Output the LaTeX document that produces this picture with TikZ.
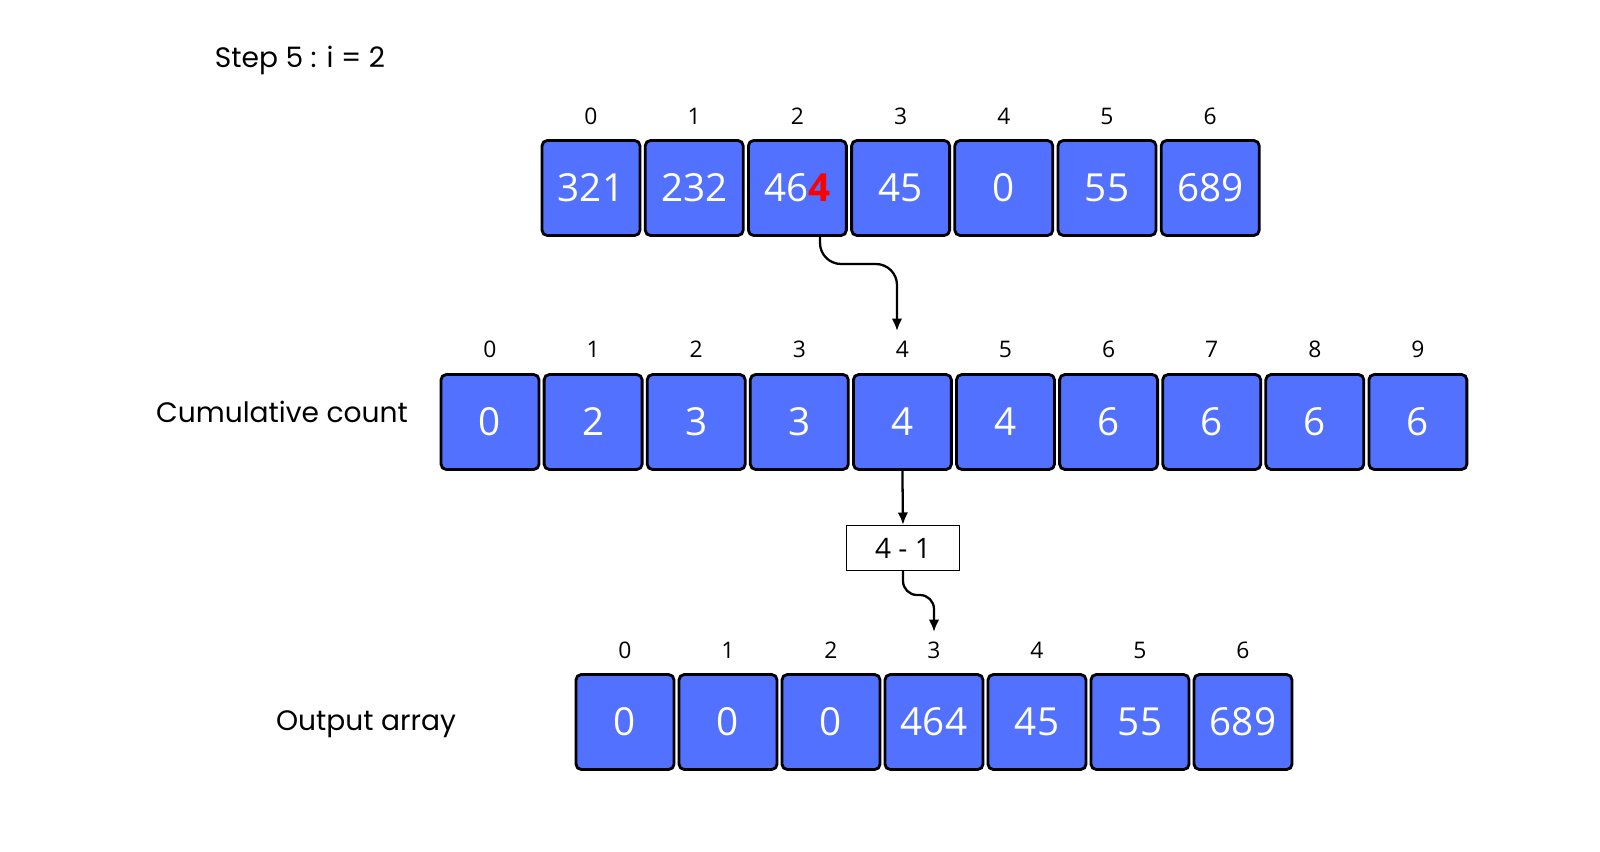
\documentclass[tikz,border=0pt]{standalone}
\usepackage{fontspec}
\setmainfont{Open Sans}
\newfontfamily\lab{Poppins}
\usetikzlibrary{arrows.meta}
\begin{document}
\begin{tikzpicture}[x=0.02cm,y=-0.02cm,
  cell/.style={draw=black,line width=1.6pt,fill={rgb,255:red,82;green,113;blue,255},rounded corners=3pt,minimum width=1.96cm,minimum height=1.9cm,text=white,font=\fontsize{22}{22}\selectfont,inner sep=0pt},
  idx/.style={font=\fontsize{13}{13}\selectfont},
  lbl/.style={font=\lab\fontsize{16}{16}\selectfont},
  arr/.style={line width=1.3pt,-{Latex[length=7pt,width=6pt]},rounded corners=12pt}]
\useasboundingbox (0,0) rectangle (1600,852);
\node[lbl] (step) at (300,60) {Step 5 : i = 2};
\node[lbl] (cum) at (282,412) {Cumulative count};
\node[lbl] (out) at (366,724) {Output array};
% top
\foreach \v [count=\i from 0] in {321,232,X,45,0,55,689}{
  \pgfmathsetmacro\xx{591+103.2*\i}
  \node[idx] (ti\i) at (\xx,116) {\i};
  \ifnum\i=2
  \node[cell] (t\i) at (\xx,188) {46\textcolor{red}{\textbf{4}}};
  \else
  \node[cell] (t\i) at (\xx,188) {\v};
  \fi
}
% cumulative
\foreach \v [count=\i from 0] in {0,2,3,3,4,4,6,6,6,6}{
  \pgfmathsetmacro\xx{490+103.1*\i}
  \node[idx] (ci\i) at (\xx,349) {\i};
  \node[cell] (c\i) at (\xx,422) {\v};
}
% output
\foreach \v [count=\i from 0] in {0,0,0,464,45,55,689}{
  \pgfmathsetmacro\xx{625+103*\i}
  \node[idx] (oi\i) at (\xx,650) {\i};
  \node[cell] (o\i) at (\xx,722) {\v};
}
\node[draw=black,line width=0.8pt,minimum width=2.26cm,minimum height=0.9cm,font=\fontsize{16}{16}\selectfont] (calc) at (903,548) {4 - 1};
\coordinate (a1) at (820,237);
\coordinate (a2) at (897,331);
\draw[arr] (a1) -- (820,264) -- (897,264) -- (a2);
\draw[arr] (c4.south) -- (calc.north);
\coordinate (b1) at (903,570);
\coordinate (b2) at (934,632);
\draw[arr,rounded corners=8pt] (b1) -- (903,595) -- (934,595) -- (b2);
\end{tikzpicture}
\end{document}
